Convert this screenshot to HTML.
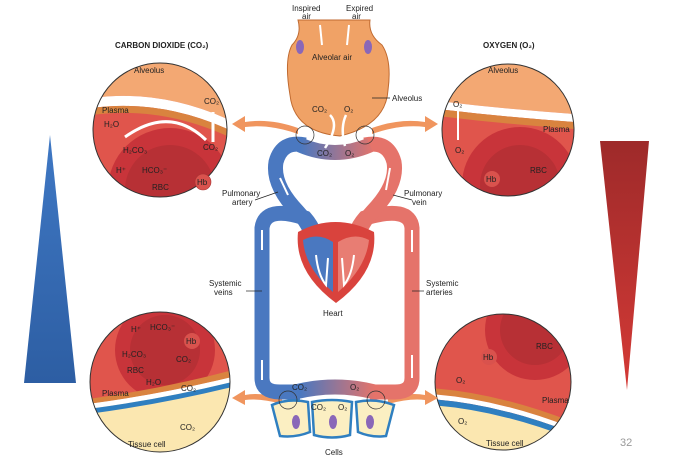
<!DOCTYPE html>
<html><head><meta charset="utf-8"><style>
body{margin:0;background:#fff}
svg{display:block;font-family:"Liberation Sans",sans-serif}
text{font-size:8px;fill:#222}
</style></head><body>
<svg width="674" height="460" viewBox="0 0 674 460" xmlns="http://www.w3.org/2000/svg">
<defs>
<linearGradient id="bt" x1="0" y1="0" x2="0" y2="1"><stop offset="0" stop-color="#3f78c4"/><stop offset="1" stop-color="#2d5ea3"/></linearGradient>
<linearGradient id="rt" x1="0" y1="0" x2="0" y2="1"><stop offset="0" stop-color="#9e2a2a"/><stop offset="1" stop-color="#d43a36"/></linearGradient>
<linearGradient id="pv" gradientUnits="userSpaceOnUse" x1="300" y1="0" x2="375" y2="0"><stop offset="0" stop-color="#4a78c0"/><stop offset="1" stop-color="#e5736a"/></linearGradient>
<clipPath id="c1"><circle cx="160" cy="130" r="67"/></clipPath>
<clipPath id="c2"><circle cx="508" cy="130" r="66"/></clipPath>
<clipPath id="c3"><circle cx="160" cy="382" r="70"/></clipPath>
<clipPath id="c4"><circle cx="503" cy="382" r="68"/></clipPath>
</defs>
<polygon points="50,135 24,383 76,383" fill="url(#bt)"/>
<polygon points="600,141 649,141 627,390" fill="url(#rt)"/>
<text x="620" y="446" style="font-size:11px;fill:#999">32</text>

<text x="115" y="48" style="font-size:8px;font-weight:bold">CARBON DIOXIDE (CO₂)</text>
<text x="483" y="48" style="font-size:8px;font-weight:bold">OXYGEN (O₂)</text>

<g clip-path="url(#c1)">
<rect x="90" y="60" width="140" height="140" fill="#e0554c"/>
<path d="M80,60 L240,60 L240,125 Q160,85 80,100Z" fill="#f3a873"/>
<path d="M80,100 Q160,85 240,125 L240,135 Q160,95 80,110Z" fill="#fff"/>
<path d="M80,110 Q160,95 240,135 L240,142 Q160,102 80,117Z" fill="#d9833f"/>
<circle cx="170" cy="190" r="62" fill="#c8343a"/>
<circle cx="170" cy="190" r="45" fill="#b73035"/>
</g>
<circle cx="160" cy="130" r="67" fill="none" stroke="#333" stroke-width="1"/>
<circle cx="203" cy="182" r="8" fill="#d9524d" stroke="#a33" stroke-width=".6"/>
<text x="197" y="185">Hb</text>
<text x="134" y="73">Alveolus</text>
<text x="102" y="113">Plasma</text>
<text x="104" y="127">H₂O</text>
<text x="123" y="153">H₂CO₃</text>
<text x="116" y="173">H⁺</text>
<text x="142" y="173">HCO₃⁻</text>
<text x="152" y="190">RBC</text>
<text x="204" y="104">CO₂</text>
<text x="203" y="150">CO₂</text>
<path d="M125,137 Q170,105 206,140" fill="none" stroke="#fff" stroke-width="3"/>
<path d="M213,142 L213,112" stroke="#fff" stroke-width="3"/>

<g clip-path="url(#c2)">
<rect x="440" y="60" width="140" height="140" fill="#e0554c"/>
<path d="M430,60 L590,60 L590,115 Q510,110 430,100Z" fill="#f3a873"/>
<path d="M430,100 Q510,110 590,115 L590,123 Q510,118 430,108Z" fill="#fff"/>
<path d="M430,108 Q510,118 590,123 L590,130 Q510,125 430,115Z" fill="#d9833f"/>
<circle cx="520" cy="185" r="58" fill="#c8343a"/>
<circle cx="520" cy="185" r="40" fill="#b73035"/>
</g>
<circle cx="508" cy="130" r="66" fill="none" stroke="#333" stroke-width="1"/>
<circle cx="492" cy="179" r="8" fill="#d9524d"/>
<text x="486" y="182">Hb</text>
<text x="488" y="73">Alveolus</text>
<text x="543" y="132">Plasma</text>
<text x="453" y="107">O₂</text>
<text x="455" y="153">O₂</text>
<text x="530" y="173">RBC</text>
<path d="M458,110 L458,140" stroke="#fff" stroke-width="2"/>

<g clip-path="url(#c3)">
<rect x="88" y="310" width="145" height="145" fill="#e0554c"/>
<circle cx="165" cy="350" r="50" fill="#c8343a"/>
<circle cx="165" cy="350" r="35" fill="#b73035"/>
<path d="M80,405 Q160,395 240,375 L240,455 L80,455Z" fill="#fbe7b0"/>
<path d="M80,400 Q160,390 240,368 L240,375 Q160,395 80,405Z" fill="#d9833f"/>
<path d="M80,405 Q160,395 240,375 L240,380 Q160,400 80,410Z" fill="#fff"/>
<path d="M80,410 Q160,400 240,380 L240,385 Q160,405 80,415Z" fill="#2f7fc0"/>
</g>
<circle cx="160" cy="382" r="70" fill="none" stroke="#333" stroke-width="1"/>
<circle cx="192" cy="341" r="8" fill="#d9524d"/>
<text x="186" y="344">Hb</text>
<text x="131" y="332">H⁺</text>
<text x="150" y="330">HCO₃⁻</text>
<text x="122" y="357">H₂CO₃</text>
<text x="176" y="362">CO₂</text>
<text x="127" y="373">RBC</text>
<text x="146" y="385">H₂O</text>
<text x="181" y="391">CO₂</text>
<text x="102" y="396">Plasma</text>
<text x="180" y="430">CO₂</text>
<text x="128" y="447">Tissue cell</text>

<g clip-path="url(#c4)">
<rect x="430" y="310" width="145" height="145" fill="#e0554c"/>
<circle cx="535" cy="330" r="50" fill="#c8343a"/>
<circle cx="535" cy="330" r="35" fill="#b73035"/>
<path d="M430,400 Q500,405 575,435 L575,460 L430,460Z" fill="#fbe7b0"/>
<path d="M430,388 Q500,393 575,423 L575,429 Q500,399 430,394Z" fill="#d9833f"/>
<path d="M430,394 Q500,399 575,429 L575,434 Q500,404 430,399Z" fill="#fff"/>
<path d="M430,399 Q500,404 575,434 L575,440 Q500,410 430,405Z" fill="#2f7fc0"/>
</g>
<circle cx="503" cy="382" r="68" fill="none" stroke="#333" stroke-width="1"/>
<circle cx="489" cy="357" r="8" fill="#d9524d"/>
<text x="483" y="360">Hb</text>
<text x="536" y="349">RBC</text>
<text x="456" y="383">O₂</text>
<text x="542" y="403">Plasma</text>
<text x="458" y="424">O₂</text>
<text x="486" y="446">Tissue cell</text>

<g fill="#f0955e">
<path d="M298,128 Q270,118 245,122 L245,116 L232,124 L245,132 L245,127 Q270,124 298,134Z"/>
<path d="M372,128 Q400,118 425,122 L425,116 L438,124 L425,132 L425,127 Q400,124 372,134Z"/>
<path d="M282,398 Q260,392 245,395 L245,390 L232,398 L245,405 L245,400 Q260,398 282,404Z"/>
<path d="M388,398 Q410,392 425,395 L425,390 L438,398 L425,405 L425,400 Q410,398 388,404Z"/>
</g>

<g fill="none" stroke-width="15" stroke-linecap="butt">
<path d="M322,270 Q320,235 305,218 Q265,205 262,228 L262,378 Q262,392 280,392 L300,392" stroke="#4a78c0"/>
<path d="M348,270 Q350,235 365,218 Q410,205 412,228 L412,378 Q412,392 395,392 L370,392" stroke="#e5736a"/>
<path d="M295,392 Q335,382 375,392" stroke="url(#pv)"/>
<path d="M318,260 Q315,230 298,212 Q272,185 276,162 Q282,140 305,145" stroke="#4a78c0"/>
<path d="M352,260 Q355,230 372,212 Q398,185 394,162 Q388,140 365,145" stroke="#e5736a"/>
<path d="M300,145 Q335,160 370,145" stroke="url(#pv)"/>
</g>

<path d="M298,20 L370,20 Q368,35 382,45 Q392,60 388,90 Q386,125 340,136 Q294,132 290,95 Q284,60 292,45 Q302,35 298,20Z" fill="#f0a266" stroke="#c06a30" stroke-width="1"/>
<ellipse cx="300" cy="47" rx="4" ry="7" fill="#8a67b8"/>
<ellipse cx="368" cy="47" rx="4" ry="7" fill="#8a67b8"/>
<text x="292" y="11">Inspired</text><text x="302" y="19">air</text>
<text x="346" y="11">Expired</text><text x="352" y="19">air</text>
<text x="312" y="60">Alveolar air</text>
<text x="392" y="101">Alveolus</text>
<line x1="372" y1="98" x2="390" y2="98" stroke="#222" stroke-width=".7"/>
<text x="312" y="112">CO₂</text><text x="344" y="112">O₂</text>
<circle cx="305" cy="135" r="9" fill="none" stroke="#333" stroke-width=".7"/>
<circle cx="365" cy="135" r="9" fill="none" stroke="#333" stroke-width=".7"/>
<path d="M325,148 Q340,125 330,115" fill="none" stroke="#fff" stroke-width="2.5"/>
<path d="M346,115 Q340,128 345,146" fill="none" stroke="#fff" stroke-width="2.5"/>
<path d="M320,25 L322,45" stroke="#fff" stroke-width="2"/>
<path d="M347,45 L349,25" stroke="#fff" stroke-width="2"/>

<path d="M298,232 Q335,212 374,232 Q378,272 336,303 Q294,272 298,232Z" fill="#d9433d"/>
<path d="M303,240 Q318,232 333,242 L333,292 Q305,268 303,240Z" fill="#4a78c0"/>
<path d="M338,242 Q354,232 369,240 Q366,268 338,292Z" fill="#e87d73"/>
<text x="323" y="316">Heart</text>
<text x="222" y="196">Pulmonary</text><text x="232" y="205">artery</text>
<text x="404" y="196">Pulmonary</text><text x="412" y="205">vein</text>
<line x1="255" y1="200" x2="278" y2="192" stroke="#222" stroke-width=".7"/>
<line x1="393" y1="195" x2="412" y2="200" stroke="#222" stroke-width=".7"/>
<text x="209" y="286">Systemic</text><text x="214" y="295">veins</text>
<text x="426" y="286">Systemic</text><text x="426" y="295">arteries</text>
<line x1="246" y1="291" x2="262" y2="291" stroke="#222" stroke-width=".7"/>
<line x1="412" y1="291" x2="424" y2="291" stroke="#222" stroke-width=".7"/>
<text x="317" y="156">CO₂</text><text x="345" y="156">O₂</text>
<g stroke="#fff" stroke-width="2" fill="none">
<path d="M262,250 L262,230"/><path d="M262,380 L262,360"/>
<path d="M412,230 L412,252"/><path d="M412,355 L412,378"/>
<path d="M316,255 Q318,275 326,285 L328,258"/><path d="M354,255 Q352,275 344,285 L342,258"/>
<path d="M288,195 L280,178"/><path d="M390,168 L386,190"/>
</g>
<g fill="#fbefc2" stroke="#2f7fc0" stroke-width="2.5">
<path d="M272,405 Q288,398 308,402 L310,432 Q295,438 280,436Z"/>
<path d="M312,402 Q332,398 352,402 L350,435 Q332,440 314,435Z"/>
<path d="M356,402 Q376,398 394,405 L386,436 Q372,438 358,432Z"/>
</g>
<ellipse cx="296" cy="422" rx="4" ry="7" fill="#8a67b8"/>
<ellipse cx="333" cy="422" rx="4" ry="7" fill="#8a67b8"/>
<ellipse cx="370" cy="422" rx="4" ry="7" fill="#8a67b8"/>
<text x="292" y="390">CO₂</text><text x="350" y="390">O₂</text>
<text x="311" y="410">CO₂</text><text x="338" y="410">O₂</text>
<text x="325" y="455">Cells</text>
<circle cx="288" cy="400" r="9" fill="none" stroke="#333" stroke-width=".7"/>
<circle cx="376" cy="400" r="9" fill="none" stroke="#333" stroke-width=".7"/>
</svg>
</body></html>
